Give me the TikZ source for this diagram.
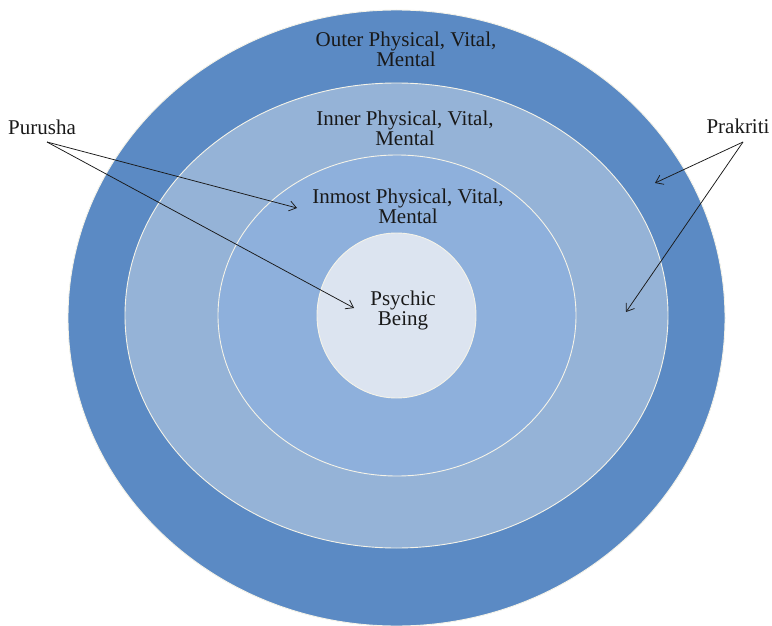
\documentclass[tikz,border=0pt]{standalone}
\usepackage{fontspec}
\setmainfont{Liberation Serif}
\usetikzlibrary{arrows.meta}
\definecolor{outerc}{RGB}{91,138,196}
\definecolor{innerc}{RGB}{149,179,215}
\definecolor{inmostc}{RGB}{142,176,220}
\definecolor{psychc}{RGB}{220,228,240}
\definecolor{rimc}{RGB}{245,243,232}
\definecolor{txtc}{RGB}{25,25,25}
\begin{document}
\begin{tikzpicture}[x=1pt,y=-1pt,
  layer/.style={draw=rimc, line width=0.9pt},
  lbl/.style={font=\fontsize{21}{20}\selectfont, align=center, inner sep=0pt, text=txtc},
  pointer/.style={draw=txtc, -{Straight Barb[length=7pt,width=10pt]}, line width=0.75pt}]
\useasboundingbox (0,0) rectangle (772,626);
\fill[white] (0,0) rectangle (772,626);
\filldraw[layer, fill=outerc] (396.5,318) ellipse [x radius=328.5pt, y radius=308pt];
\filldraw[layer, fill=innerc] (396.5,315.5) ellipse [x radius=271.5pt, y radius=232.5pt];
\filldraw[layer, fill=inmostc] (397,315.5) ellipse [x radius=179pt, y radius=160.5pt];
\filldraw[layer, fill=psychc] (396.5,315.5) ellipse [x radius=79.5pt, y radius=82.5pt];

\node[lbl] (outer) at (406,48.9) {Outer Physical, Vital,\\Mental};
\node[lbl] (inner) at (405,127.9) {Inner Physical, Vital,\\Mental};
\node[lbl] (inmost) at (408,205.9) {Inmost Physical, Vital,\\Mental};
\node[lbl] (psychic) at (403,310.1) {Psychic\\Being};
\node[lbl, anchor=base] (purusha) at (42,135) {Purusha};
\node[lbl, anchor=base] (prakriti) at (738,134) {Prakriti};

\coordinate (pu1) at (297,208);
\coordinate (pu2) at (354,308);
\coordinate (pr1) at (655,183);
\coordinate (pr2) at (626,312);

\draw[pointer] ([xshift=5pt,yshift=-7pt]purusha.base) -- (pu1);
\draw[pointer] ([xshift=5pt,yshift=-7pt]purusha.base) -- (pu2);
\draw[pointer] ([xshift=5pt,yshift=-8pt]prakriti.base) -- (pr1);
\draw[pointer] ([xshift=5pt,yshift=-8pt]prakriti.base) -- (pr2);
\end{tikzpicture}
\end{document}
